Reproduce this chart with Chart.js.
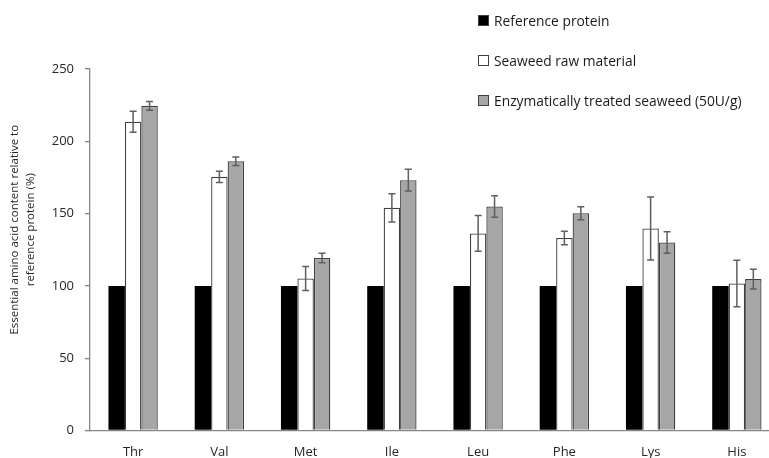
<!DOCTYPE html>
<html>
<head>
<meta charset="utf-8">
<script src="https://cdn.jsdelivr.net/npm/chart.js@4"></script>
<style>
  html, body { margin: 0; padding: 0; background: #fff; overflow: hidden; }
  #wrap { position: relative; width: 790px; height: 458px; }
  #legend { position: absolute; left: 478px; top: 0; font-family: "Open Sans", sans-serif; font-size: 13.8px; color: #1a1a1a; }
  .item { position: absolute; left: 0; white-space: nowrap; display: flex; align-items: center; }
  .box { width: 9px; height: 9px; border: 1px solid #404040; margin-right: 5px; }
</style>
</head>
<body>
<div id="wrap">
  <canvas id="my-chart" width="790" height="458"></canvas>
  <div id="legend"></div>
</div>
<script>
// amino acids on the x axis
const aminoAcids = ['Thr', 'Val', 'Met', 'Ile', 'Leu', 'Phe', 'Lys', 'His'];

const seriesNames = ['Reference protein', 'Seaweed raw material', 'Enzymatically treated seaweed (50U/g)'];

const referenceProtein = [100, 100, 100, 100, 100, 100, 100, 100];
const rawSeaweed = [213.5, 175.4, 105.2, 154, 136.3, 133.1, 139.7, 101.7];
const rawSeaweedErr = [7.3, 3.9, 8.3, 9.8, 12.3, 4.7, 21.8, 16.1];
const treatedSeaweed = [224.5, 186.2, 119.3, 173.1, 154.9, 150.3, 130, 104.7];
const treatedSeaweedErr = [3.1, 3, 3.3, 7.5, 7.4, 4.5, 7.5, 6.9];

const yTicks = [0, 50, 100, 150, 200, 250];
const yTitle = ['Essential amino acid content relative to', 'reference protein (%)'];

// draws the error bars on top of each bar, using the y scale
const errorBars = {
    id: 'errorBars',
    afterDatasetsDraw(chart) {
        const ctx = chart.ctx;
        const y = chart.scales.y;
        chart.data.datasets.forEach((ds, i) => {
            if (!ds.errors) return;
            const meta = chart.getDatasetMeta(i);
            meta.data.forEach((bar, j) => {
                const v = ds.data[j], e = ds.errors[j];
                const top = y.getPixelForValue(v + e);
                const bot = y.getPixelForValue(v - e);
                ctx.save();
                ctx.strokeStyle = '#5f5f5f';
                ctx.lineWidth = 1.5;
                ctx.beginPath();
                ctx.moveTo(bar.x, top); ctx.lineTo(bar.x, bot);
                ctx.moveTo(bar.x - 3.5, top); ctx.lineTo(bar.x + 3.5, top);
                ctx.moveTo(bar.x - 3.5, bot); ctx.lineTo(bar.x + 3.5, bot);
                ctx.stroke();
                ctx.restore();
            });
        });
    }
};

// y axis title, two centred lines (the built-in one left-aligned them)
const yTitlePlugin = {
    id: 'yTitle',
    afterDraw(chart) {
        const ctx = chart.ctx;
        const y = chart.scales.y;
        const cy = (y.top + y.bottom) / 2 - 20;
        ctx.save();
        ctx.translate(15, cy);
        ctx.rotate(-Math.PI / 2);
        ctx.fillStyle = '#262626';
        ctx.font = '11.5px "Open Sans"';
        ctx.textAlign = 'center';
        ctx.textBaseline = 'middle';
        yTitle.forEach((line, i) => ctx.fillText(line, 0, i * 16));
        ctx.restore();
    }
};

const ctx = document.getElementById('my-chart').getContext('2d');

const chart = new Chart(ctx, {
    type: 'bar',
    data: {
        labels: aminoAcids,
        datasets: [{
            label: seriesNames[0],
            data: referenceProtein,
            backgroundColor: '#000000',
            borderColor: '#000000',
            borderWidth: 0
        }, {
            label: seriesNames[1],
            data: rawSeaweed,
            errors: rawSeaweedErr,
            backgroundColor: '#ffffff',
            borderColor: '#404040',
            borderWidth: 1.3
        }, {
            label: seriesNames[2],
            data: treatedSeaweed,
            errors: treatedSeaweedErr,
            backgroundColor: '#a6a6a6',
            borderColor: '#404040',
            borderWidth: 1.3
        }]
    },
    options: {
        responsive: false,
        animation: false,
        layout: { padding: { top: 69, left: 0, right: 10, bottom: 0 } },
        datasets: { bar: { categoryPercentage: 0.572, barPercentage: 1 } },
        plugins: {
            legend: { display: false },
            tooltip: { enabled: false }
        },
        scales: {
            x: {
                grid: { display: false },
                border: { display: true, color: '#868686', width: 1.3 },
                ticks: { color: '#262626', padding: 6, font: { family: 'Open Sans', size: 13 } },
                afterFit: s => { s.height = 27.5; }
            },
            y: {
                min: 0,
                max: 250,
                afterBuildTicks: s => { s.ticks = yTicks.map(v => ({ value: v })); },
                grid: { drawOnChartArea: false, drawTicks: true, tickLength: 5, color: '#868686', lineWidth: 1.3 },
                border: { display: true, color: '#868686', width: 1.3 },
                ticks: { color: '#262626', padding: 11, font: { family: 'Open Sans', size: 13 } },
                afterFit: s => { s.width = 90; }
            }
        }
    },
    plugins: [errorBars, yTitlePlugin]
});

// legend built from the dataset labels
const legend = document.getElementById('legend');
const legendTops = [11, 51, 91];
chart.data.datasets.forEach((ds, i) => {
    const item = document.createElement('div');
    item.className = 'item';
    item.style.top = legendTops[i] + 'px';
    const box = document.createElement('span');
    box.className = 'box';
    box.style.background = ds.backgroundColor;
    const txt = document.createElement('span');
    txt.textContent = ds.label;
    item.appendChild(box);
    item.appendChild(txt);
    legend.appendChild(item);
});
</script>
</body>
</html>
